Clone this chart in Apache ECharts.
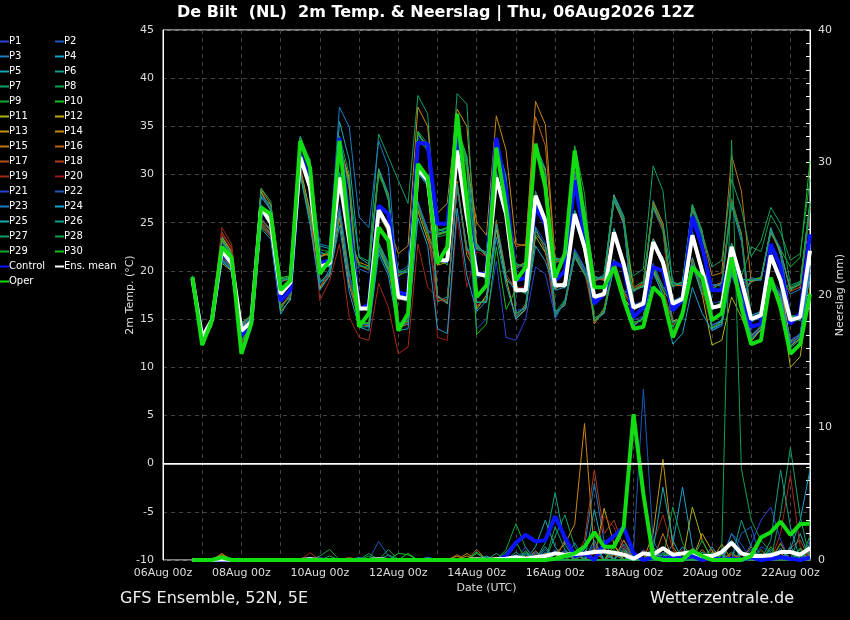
<!DOCTYPE html>
<html><head><meta charset="utf-8">
<script src="https://cdn.jsdelivr.net/npm/echarts@6/dist/echarts.min.js"></script>
<style>html,body{margin:0;padding:0;background:#000;}#c{width:850px;height:620px;}</style>
</head><body><div id="c"></div>
<script>
// ---- time axis (6-hourly categories) ----
const times = [
'06Aug 00z','06Aug 06z','06Aug 12z','06Aug 18z','07Aug 00z','07Aug 06z','07Aug 12z','07Aug 18z',
'08Aug 00z','08Aug 06z','08Aug 12z','08Aug 18z','09Aug 00z','09Aug 06z','09Aug 12z','09Aug 18z',
'10Aug 00z','10Aug 06z','10Aug 12z','10Aug 18z','11Aug 00z','11Aug 06z','11Aug 12z','11Aug 18z',
'12Aug 00z','12Aug 06z','12Aug 12z','12Aug 18z','13Aug 00z','13Aug 06z','13Aug 12z','13Aug 18z',
'14Aug 00z','14Aug 06z','14Aug 12z','14Aug 18z','15Aug 00z','15Aug 06z','15Aug 12z','15Aug 18z',
'16Aug 00z','16Aug 06z','16Aug 12z','16Aug 18z','17Aug 00z','17Aug 06z','17Aug 12z','17Aug 18z',
'18Aug 00z','18Aug 06z','18Aug 12z','18Aug 18z','19Aug 00z','19Aug 06z','19Aug 12z','19Aug 18z',
'20Aug 00z','20Aug 06z','20Aug 12z','20Aug 18z','21Aug 00z','21Aug 06z','21Aug 12z','21Aug 18z',
'22Aug 00z','22Aug 06z','22Aug 12z'];
const leadingEmpty = [null, null, null]; // forecast starts at 06Aug 18z

// ---- 2m temperature (°C) ----
const tempMean = [19.2, 13.1,14.9,22.1,20.8, 13.8,14.7,26.6,25.0, 17.6,18.8,31.8,28.7, 20.4,20.8,29.7,23.1, 16.1,16.1,26.3,24.5, 17.3,17.1,30.6,29.4, 21.1,21.1,32.5,25.6, 19.7,19.5,29.7,25.9, 18.0,18.0,27.8,25.2, 18.5,18.5,25.9,22.5, 17.3,17.6,24.0,20.7, 16.2,16.6,23.0,20.9, 16.6,17.1,23.7,20.0, 16.2,16.4,22.5,19.0, 15.0,15.4,21.6,19.0, 14.9,15.2,22.1];
const tempControl = [19.2, 13.1,14.9,21.8,20.8, 13.3,14.7,26.3,25.3, 16.9,18.0,32.1,29.4, 20.8,21.1,33.8,25.0, 16.0,16.5,26.8,25.9, 17.8,17.5,33.3,33.2, 24.9,24.9,33.8,27.3, 19.7,19.7,33.8,28.3, 19.0,19.3,26.6,24.9, 19.0,20.0,29.4,23.5, 16.6,17.6,20.9,20.4, 15.2,16.2,20.4,20.0, 15.9,17.0,25.6,22.5, 18.0,18.0,21.4,18.7, 14.2,14.5,22.8,20.4, 14.5,15.6,23.8];
const tempOper = [19.4, 12.3,14.9,22.5,21.4, 11.4,14.5,26.6,25.9, 18.0,19.0,33.5,30.7, 19.7,21.1,33.5,23.9, 14.2,15.6,24.5,23.1, 13.8,15.6,31.1,29.7, 20.8,22.5,36.3,27.3, 17.3,18.5,32.8,26.6, 19.0,20.4,33.2,28.7, 19.3,21.8,32.5,25.2, 18.3,18.3,20.4,17.0, 14.0,14.2,18.3,17.3, 13.1,15.6,20.4,19.3, 14.9,15.6,21.4,16.2, 12.4,12.8,19.3,16.2, 11.4,12.4,17.6];
const tempP1 = [19.3, 13.0,14.8,21.8,20.5, 12.9,14.0,25.5,24.3, 16.5,17.2,30.2,26.4, 18.9,19.6,26.8,19.8, 15.8,16.3,25.9,24.0, 14.6,14.9,27.1,24.4, 17.5,16.6,28.6,22.5, 19.2,19.9,29.1,25.3, 15.9,16.1,24.6,22.9, 15.0,16.9,22.3,20.4, 17.0,17.9,23.5,20.1, 14.9,15.3,20.8,18.4, 16.9,16.8,23.1,19.6, 14.4,14.9,20.4,17.5, 13.4,13.8,19.1,17.9, 12.8,13.5,19.8];
const tempP2 = [19.2, 13.4,15.2,23.0,21.5, 14.4,15.0,27.6,26.9, 18.8,19.3,33.2,31.6, 20.1,21.0,30.2,24.0, 20.2,19.8,30.6,27.2, 19.9,20.5,33.8,32.4, 21.4,20.8,32.0,26.2, 19.4,19.8,30.1,26.5, 20.8,20.2,32.2,29.6, 20.7,21.6,29.5,26.6, 19.5,19.0,27.9,24.7, 16.5,16.9,23.4,21.3, 18.3,18.9,26.2,23.4, 16.6,16.9,22.9,19.5, 15.3,15.7,21.3,19.4, 15.2,15.6,22.6];
const tempP3 = [19.1, 12.8,14.5,21.6,20.3, 13.6,14.8,26.9,25.3, 19.4,19.0,34.0,30.8, 22.0,21.5,33.9,28.4, 16.4,15.8,26.0,24.9, 14.0,14.9,27.2,24.2, 23.6,24.6,35.4,30.9, 20.0,19.2,29.3,25.4, 17.7,18.3,28.3,25.6, 15.8,16.4,22.1,20.3, 15.1,15.7,21.2,17.9, 17.8,18.9,26.5,24.1, 16.9,17.4,24.1,20.4, 13.8,14.3,20.4,17.5, 14.7,15.2,22.0,19.3, 17.6,18.1,26.2];
const tempP4 = [19.3, 13.2,15.0,22.3,21.0, 12.3,14.1,24.8,23.7, 17.9,18.6,31.5,28.2, 18.3,20.2,25.8,18.5, 14.9,14.2,22.9,20.8, 17.0,17.5,30.2,28.8, 24.4,23.9,34.6,31.9, 22.2,22.0,33.5,29.8, 18.3,17.6,27.4,24.8, 18.8,18.2,26.3,22.9, 18.9,19.6,27.9,25.7, 14.2,15.3,20.0,17.4, 14.8,15.0,21.4,18.2, 18.6,18.4,26.8,23.1, 15.4,15.8,21.2,18.6, 12.7,13.4,20.6];
const tempP5 = [19.4, 13.3,15.1,23.6,21.9, 14.0,14.6,26.3,25.2, 18.9,19.4,33.2,30.9, 22.6,22.3,35.5,31.5, 21.4,20.7,30.6,28.0, 17.6,16.8,31.0,29.8, 16.8,17.3,28.5,22.4, 19.9,19.1,30.3,26.3, 20.2,20.8,33.1,30.6, 18.2,18.9,25.5,22.0, 17.0,17.9,24.4,21.1, 16.5,16.3,22.6,21.4, 14.2,15.6,20.6,17.5, 15.9,16.8,22.9,18.6, 19.3,19.0,24.5,21.6, 15.5,14.8,22.4];
const tempP6 = [19.0, 12.6,14.5,21.2,20.2, 12.8,14.3,25.0,23.8, 17.3,19.0,32.1,29.0, 20.6,20.5,29.3,22.6, 14.3,14.7,22.8,20.6, 19.4,20.3,34.5,33.2, 20.7,21.5,32.9,25.2, 22.9,21.4,32.6,28.9, 15.1,16.6,24.5,22.0, 18.7,18.3,25.6,22.2, 15.1,15.6,21.1,17.6, 18.4,18.3,27.3,24.9, 18.9,18.4,26.9,24.2, 16.5,16.2,22.2,19.3, 13.3,14.3,18.9,17.3, 12.1,13.4,19.9];
const tempP7 = [19.2, 13.1,14.8,22.3,20.9, 14.5,15.2,28.3,26.4, 17.8,18.6,31.5,28.9, 21.9,21.6,33.6,28.6, 21.5,21.0,34.2,31.8, 29.4,27.0,38.2,36.3, 21.5,20.6,32.2,25.9, 16.3,17.2,24.6,19.0, 18.4,17.8,27.4,24.9, 21.4,21.0,30.4,26.4, 14.6,16.2,21.0,17.0, 16.0,16.8,23.2,21.1, 18.8,18.5,26.9,23.6, 18.0,18.9,27.5,23.9, 15.2,15.6,21.9,18.8, 18.3,18.8,27.0];
const tempP8 = [19.5, 13.4,15.2,23.1,21.6, 13.9,14.9,26.8,24.7, 17.4,18.9,31.9,28.4, 18.9,19.7,26.5,19.6, 14.8,14.6,22.2,20.0, 17.5,16.9,30.9,29.1, 23.7,24.0,34.8,31.0, 16.8,16.7,25.3,19.8, 20.7,20.3,32.4,29.9, 15.7,17.0,21.4,19.6, 17.5,17.4,23.7,20.4, 16.0,16.4,22.8,20.6, 16.4,17.3,23.9,20.3, 14.3,14.9,20.2,17.4, 18.8,19.4,24.3,22.3, 14.6,15.0,21.8];
const tempP9 = [19.1, 12.5,14.4,21.0,20.1, 13.7,14.8,26.4,25.1, 16.0,17.7,30.4,26.2, 20.2,21.1,30.0,23.5, 20.6,20.1,29.9,27.9, 14.6,14.4,26.4,24.1, 20.9,21.3,32.7,25.4, 22.4,21.9,32.8,29.0, 15.6,16.2,23.8,22.7, 18.2,18.7,26.1,22.7, 19.4,19.1,27.2,25.0, 14.7,14.8,20.6,18.3, 16.8,16.9,23.5,20.2, 16.0,16.6,22.7,19.2, 12.8,13.9,18.3,17.8, 15.1,15.4,21.9];
const tempP10 = [19.3, 13.0,15.0,22.0,20.6, 14.2,15.3,27.8,26.8, 19.3,19.5,33.9,31.4, 21.5,22.1,32.9,29.5, 16.3,16.0,26.6,24.2, 20.0,19.8,34.4,32.6, 24.2,24.5,35.2,31.7, 19.5,19.9,29.4,26.1, 18.2,17.7,28.1,24.9, 15.2,16.9,21.9,20.1, 19.0,19.4,27.7,25.5, 18.3,18.9,26.8,24.3, 14.3,15.4,21.2,18.0, 16.3,16.2,22.3,19.1, 19.1,19.3,23.9,22.2, 20.4,21.4,31.4];
const tempP11 = [19.0, 12.4,14.3,20.8,20.0, 12.1,14.0,24.6,23.6, 15.8,17.0,30.1,25.3, 18.2,19.5,25.5,18.6, 15.8,16.4,25.9,24.0, 13.9,14.8,26.2,23.2, 20.6,20.9,32.3,25.0, 16.0,17.5,24.3,19.2, 15.0,16.0,23.6,21.9, 18.1,18.9,25.4,22.2, 14.5,16.0,20.5,17.2, 15.9,16.7,22.7,20.5, 14.8,15.1,21.2,17.6, 12.3,12.8,17.3,15.2, 12.7,13.9,18.2,17.1, 10.0,11.1,18.3];
const tempP12 = [19.4, 13.3,15.0,23.5,22.0, 13.6,14.5,26.2,24.8, 17.9,18.5,31.6,29.2, 21.4,21.9,33.1,29.6, 14.4,14.5,22.3,20.1, 17.8,17.3,30.9,29.8, 17.4,16.6,29.3,21.6, 19.8,19.3,29.9,25.6, 20.4,20.9,32.3,30.5, 18.4,18.8,25.7,22.4, 14.7,15.8,21.0,17.8, 16.3,16.8,23.3,21.0, 18.4,18.8,26.4,24.1, 16.1,16.7,22.6,18.8, 15.1,15.6,21.4,19.2, 12.2,13.0,20.0];
const tempP13 = [19.2, 13.2,14.9,22.2,20.9, 14.4,15.1,28.2,26.2, 16.4,17.3,30.8,26.0, 20.5,20.6,29.9,23.4, 20.9,20.5,30.4,27.5, 17.1,17.4,30.4,29.6, 26.0,27.0,36.8,35.0, 22.7,21.5,33.2,29.5, 17.8,18.1,27.6,25.4, 15.6,16.5,21.5,19.7, 17.4,17.5,24.2,20.9, 14.3,15.2,20.1,18.0, 16.5,17.2,23.8,20.1, 18.4,18.8,27.0,23.8, 13.2,14.2,18.8,17.4, 14.7,15.3,22.3];
const tempP14 = [19.3, 13.4,15.2,23.2,21.7, 14.6,15.3,28.5,26.9, 19.0,19.1,33.4,31.0, 20.3,20.9,29.5,22.8, 16.0,16.3,26.1,24.7, 21.8,22.6,37.0,35.0, 23.8,24.1,34.9,31.2, 25.0,23.7,36.1,32.5, 22.8,22.6,37.6,35.2, 21.0,21.5,30.3,26.3, 19.4,19.1,27.8,25.0, 18.0,18.7,27.1,24.9, 16.8,17.0,23.6,20.3, 14.0,14.8,20.1,17.3, 19.0,19.2,24.2,21.9, 18.2,18.6,26.5];
const tempP15 = [19.0, 12.7,14.5,21.5,20.5, 13.9,14.7,26.5,24.9, 17.5,18.9,31.7,28.5, 21.6,21.7,33.0,29.2, 14.5,14.3,22.6,20.4, 14.1,14.5,26.9,23.6, 21.2,21.2,32.6,25.8, 22.4,21.8,33.1,29.1, 17.9,17.9,27.9,25.0, 20.9,21.1,30.1,26.0, 19.0,19.2,27.3,24.9, 16.4,16.5,23.1,21.2, 18.5,18.5,26.7,24.0, 19.5,19.8,32.0,28.3, 18.9,19.1,24.0,22.0, 17.9,18.3,26.9];
const tempP16 = [19.2, 13.1,14.8,21.9,20.7, 12.5,14.4,25.4,24.2, 19.2,19.3,33.7,31.3, 20.3,20.7,29.8,23.3, 15.9,16.2,26.2,24.4, 19.6,20.0,34.2,33.0, 16.9,17.0,28.8,22.3, 19.6,19.6,29.6,25.8, 22.5,22.8,36.0,33.0, 21.2,21.1,30.0,26.0, 17.1,17.8,23.8,20.5, 18.0,18.4,26.9,24.4, 16.7,16.9,23.6,19.8, 16.3,16.5,22.4,19.2, 15.1,15.3,21.7,18.9, 15.0,15.1,22.0];
const tempP17 = [19.3, 13.3,15.2,24.0,22.4, 13.7,14.8,26.7,25.1, 16.3,17.6,30.5,25.6, 18.4,19.7,26.0,18.9, 14.7,14.5,22.4,20.2, 17.4,17.2,30.7,29.0, 21.0,21.1,32.4,25.5, 16.4,17.0,25.1,19.6, 18.1,18.2,27.7,25.3, 18.6,18.5,25.8,22.6, 19.3,19.0,27.6,25.4, 14.4,15.1,20.4,18.1, 14.6,15.2,20.9,17.9, 16.1,16.3,22.6,19.0, 13.1,14.2,18.5,17.5, 12.6,13.2,20.4];
const tempP18 = [19.1, 12.6,14.6,21.3,20.3, 12.7,14.2,25.1,23.9, 17.7,18.7,31.9,28.8, 20.5,20.8,29.6,23.0, 20.6,20.1,30.1,27.8, 14.2,14.7,26.6,23.9, 17.0,16.8,28.9,22.2, 19.8,19.4,29.8,26.0, 15.3,16.5,24.2,22.3, 15.5,16.6,21.8,20.0, 14.9,15.8,20.7,17.6, 16.1,16.7,23.1,20.8, 16.7,17.0,23.8,20.1, 18.2,18.8,27.4,23.7, 14.9,15.5,21.5,19.1, 14.8,15.3,22.2];
const tempP19 = [19.2, 13.2,15.0,24.5,22.8, 13.8,14.6,26.4,24.6, 17.4,18.7,31.6,28.6, 16.9,19.0,22.8,15.2, 13.1,12.8,18.7,16.2, 11.4,12.1,22.8,18.3, 17.2,17.0,29.1,21.9, 22.5,21.6,32.9,29.2, 20.6,20.4,32.5,30.0, 18.4,18.6,25.9,22.5, 14.6,15.9,20.9,17.3, 18.2,18.5,27.0,24.7, 16.5,17.0,23.6,20.0, 14.2,14.5,19.8,17.0, 15.1,15.5,21.5,19.0, 15.0,15.4,22.0];
const tempP20 = [19.4, 13.5,15.3,23.8,22.2, 12.4,14.0,25.0,23.5, 17.6,18.9,31.7,28.6, 20.4,20.6,29.4,22.7, 16.2,16.0,26.4,24.6, 17.0,17.0,30.5,29.2, 13.1,12.8,25.6,18.3, 22.0,21.5,32.4,28.7, 18.2,18.4,28.0,25.5, 18.7,18.4,26.0,22.4, 17.2,17.8,24.1,20.9, 18.3,18.7,26.6,24.2, 14.4,15.5,21.1,17.9, 14.1,14.7,20.0,17.2, 15.2,15.3,21.8,19.0, 17.8,18.4,26.5];
const tempP21 = [19.1, 12.5,14.4,21.1,20.2, 14.3,15.2,27.9,26.5, 17.5,18.6,31.4,28.5, 20.2,20.9,29.2,22.9, 14.5,14.4,22.5,20.5, 19.8,19.9,34.0,32.9, 21.2,20.9,32.4,25.7, 14.0,15.0,21.0,13.1, 12.8,15.0,20.4,19.7, 15.3,16.8,21.6,20.1, 17.4,17.7,23.9,20.6, 16.1,16.5,22.9,20.8, 16.6,17.1,23.9,19.9, 18.5,18.6,27.1,23.5, 13.0,14.0,18.7,17.7, 12.3,13.3,20.3];
const tempP22 = [19.3, 13.0,15.0,22.2,20.8, 13.8,14.8,26.5,24.9, 19.0,19.3,33.5,31.0, 18.7,19.8,26.4,19.3, 16.0,16.0,26.5,24.6, 14.4,14.5,26.8,24.0, 23.9,24.2,35.1,31.2, 19.6,19.7,29.5,25.7, 18.1,17.8,27.9,25.0, 21.0,21.4,30.2,26.2, 19.2,19.5,27.4,25.3, 14.6,15.1,20.5,18.2, 18.7,18.6,26.8,23.7, 14.3,14.8,20.3,17.3, 19.2,19.0,24.1,22.4, 15.3,15.0,22.5];
const tempP23 = [19.5, 13.4,15.1,23.0,21.7, 13.9,14.9,26.7,25.2, 17.8,18.8,32.0,29.0, 22.8,22.5,37.0,34.9, 25.6,24.5,33.5,30.7, 17.6,17.2,30.8,29.6, 21.0,20.9,32.6,25.6, 22.6,21.8,33.0,29.4, 18.0,18.1,27.6,25.1, 15.6,16.6,21.6,19.8, 19.1,19.3,27.6,25.1, 16.3,16.5,23.2,20.9, 16.9,17.0,23.7,20.2, 14.0,14.5,20.0,17.1, 13.2,14.3,18.7,17.5, 12.5,13.1,20.5];
const tempP24 = [19.0, 12.4,14.5,21.0,20.1, 12.0,14.1,24.4,23.3, 15.5,17.2,30.0,24.8, 18.0,19.5,24.7,17.8, 14.2,13.8,21.8,19.5, 13.8,14.0,25.5,22.6, 14.0,13.5,26.5,19.5, 15.8,16.9,23.5,18.6, 15.0,16.2,22.6,21.0, 18.0,18.3,25.2,22.0, 14.8,15.6,20.3,17.0, 14.3,15.1,19.8,17.6, 12.4,13.5,18.3,15.6, 13.8,14.5,19.6,16.8, 12.9,14.0,18.2,17.3, 12.0,12.9,19.5];
const tempP25 = [19.2, 13.1,14.9,22.4,21.0, 14.2,15.0,27.7,26.3, 17.7,18.9,31.6,28.3, 20.7,20.4,30.2,23.6, 14.2,14.2,22.2,19.9, 17.2,16.8,30.3,29.0, 20.8,21.4,32.3,25.4, 16.7,16.8,24.8,19.3, 17.9,18.3,27.7,24.9, 21.3,21.1,29.6,25.8, 17.0,17.4,24.3,20.8, 17.9,18.4,26.6,24.5, 16.6,17.3,23.8,20.0, 14.0,14.9,20.0,17.2, 15.1,15.5,21.6,19.3, 15.0,15.3,21.7];
const tempP26 = [19.3, 13.3,15.1,23.4,21.6, 13.7,14.7,26.4,25.0, 19.2,19.1,33.7,31.1, 18.8,19.8,26.1,19.4, 20.5,20.4,30.3,27.7, 17.4,17.1,30.6,29.5, 17.3,16.7,29.0,22.1, 22.7,21.6,33.2,29.5, 15.5,16.3,24.2,22.6, 18.3,18.6,25.9,22.3, 19.3,19.3,27.4,25.2, 16.2,16.4,23.1,21.0, 14.6,15.2,21.0,17.7, 16.4,16.4,22.6,19.1, 19.0,19.1,24.2,22.1, 18.1,18.7,26.8];
const tempP27 = [19.2, 13.0,14.9,22.1,20.7, 13.9,14.6,26.5,25.1, 17.6,18.7,31.7,28.8, 20.4,20.9,29.6,23.2, 16.2,16.2,26.2,24.4, 19.8,20.2,34.3,32.7, 24.1,24.4,38.4,37.3, 19.6,19.6,29.8,26.0, 20.6,20.6,32.8,30.3, 15.4,16.8,21.8,19.8, 17.3,17.7,24.0,20.6, 19.5,20.2,30.9,28.3, 18.6,18.8,26.6,23.9, 20.4,21.1,29.5,26.5, 21.5,23.1,26.6,24.9, 18.5,18.9,27.2];
const tempP28 = [19.1, 12.6,14.4,21.2,20.4, 14.6,15.4,28.6,27.2, 16.2,17.4,30.3,25.4, 22.2,22.0,34.0,30.0, 16.4,16.0,26.7,24.7, 17.5,17.4,31.2,29.6, 23.5,23.8,34.4,30.6, 19.8,19.4,29.6,25.6, 20.8,20.3,32.5,29.8, 18.6,18.6,26.2,22.7, 19.0,19.6,27.7,25.6, 16.4,16.5,23.2,21.0, 18.4,18.9,26.9,24.0, 16.0,16.9,22.8,19.4, 22.5,22.0,25.8,24.0, 21.1,21.8,29.5];
const tempP29 = [19.2, 13.1,14.9,22.0,20.8, 12.7,14.3,25.3,24.1, 19.1,19.4,33.8,31.5, 20.6,20.6,29.9,23.3, 20.7,20.2,30.3,27.4, 14.5,14.8,26.9,23.9, 21.3,21.0,32.5,25.8, 22.5,21.6,33.1,29.3, 18.0,17.9,27.9,25.2, 21.1,21.2,33.0,28.0, 17.2,17.5,24.0,20.7, 18.1,18.5,26.9,24.5, 16.7,17.2,23.7,20.0, 18.2,18.7,27.1,23.6, 15.0,15.4,21.6,19.0, 18.0,18.6,27.0];
const tempP30 = [19.3, 13.4,15.2,23.3,21.8, 13.8,14.8,26.6,25.0, 17.6,18.9,31.9,28.7, 20.3,20.8,29.6,22.9, 14.6,14.5,22.7,20.2, 19.5,20.0,34.3,32.6, 23.9,24.1,35.0,31.3, 13.4,14.5,22.5,16.0, 18.1,18.0,27.8,25.3, 18.4,18.6,25.8,22.3, 14.8,15.8,20.8,17.5, 14.6,15.0,20.4,18.0, 16.6,17.2,23.8,20.1, 14.1,14.7,20.0,17.3, 15.0,15.4,21.7,19.1, 15.2,15.5,22.2];

// ---- precipitation (mm per 6h) ----
const precMean = [0, 0,0,.05,0, 0,0,0,0, 0,0,0,.05, 0,0,0,0, 0,0,.05,0, 0,0,0,0, 0,0,0,0, .05,0,.05,.1, .2,.1,.2,.3, .5,.4,.45,.5, .6,.65,.55,.4, .1,.5,.4,.9, .4,.5,.6,.3, .3,.6,1.3,.5, .3,.3,.35,.6, .6,.4,.9];
const precControl = [0, 0,0,0,0, 0,0,0,0, 0,0,0,0, 0,0,0,0, 0,0,0,0, 0,0,0,0, 0,0,0,0, 0,0,0,.3, 1.3,1.9,1.4,1.5, 3.3,1.7,.3,.5, 0,1.2,1.8,2.5, .5,0,.2,.1, .2,.1,.3,0, .2,0,.1,0, .2,0,.1,.2, .1,0,.2];
const precOper = [0, 0,0,.2,0, 0,0,0,0, 0,0,0,0, 0,0,0,0, 0,0,0,0, 0,0,0,0, 0,0,0,0, 0,0,0,0, 0,0,0,0, .1,.3,.5,1, 2.1,1,1,2.5, 11,5,.2,0, 0,0,.7,.3, 0,0,0,0, .3,1.7,2.1,2.9, 1.9,2.7,2.75];
const precP1 = [0, 0,0,0,0, 0,0,0,0, 0,0,0,0, .2,0,0,0, 0,0,0,0, 0,0,0,0, 0,0,0,0, 0,0,0,0, .3,0,.5,0, 0,0,0,0, 1.2,0,.6,0, 0,.8,0,0, 0,.5,0,0, 0,.3,0,0, 0,1,.6,0, 0,.4,0];
const precP2 = [0, 0,0,0,0, 0,0,0,0, 0,0,0,0, 0,0,0,0, 0,0,1.4,.3, 0,0,0,0, 0,0,0,0, 0,0,0,0, 0,.4,0,0, .8,0,0,0, 0,1.5,0,0, 0,0,0,.6, 0,0,0,0, 0,0,2,1.2, 0,0,0,.5, 0,0,1.5];
const precP3 = [0, 0,0,0,0, 0,0,0,0, 0,0,0,0, 0,0,0,0, .2,0,0,0, 0,0,0,0, 0,0,0,0, 0,0,0,0, 0,0,0,.6, 0,0,0,1, 5.8,1.4,0,0, 0,0,.7,0, 0,0,0,0, .4,0,0,0, .8,0,0,0, 1,0,0];
const precP4 = [0, 0,0,0,0, 0,0,0,0, 0,0,0,0, 0,0,0,0, 0,0,0,0, 0,0,0,.2, 0,0,0,0, 0,0,0,0, 0,0,.3,0, 0,.7,0,0, 0,0,0,.9, 0,0,0,0, 1.2,5.5,1,0, 0,0,0,.6, 0,0,.8,0, 0,0,1.2];
const precP5 = [0, 0,0,0,0, 0,0,0,0, 0,0,0,0, 0,0,0,0, 0,0,0,0, 0,0,0,0, 0,0,0,0, 0,.2,0,0, 0,0,1,3, 1,0,0,0, 3.8,.5,0,0, 0,0,0,.4, 0,0,0,.6, 0,0,1.5,0, 0,0,0,.7, 0,2,0];
const precP6 = [0, 0,0,0,0, 0,0,0,0, 0,0,0,0, 0,0,0,0, 0,0,0,0, 0,0,0,0, 0,0,0,0, 0,0,0,0, .6,0,0,1.3, 5.1,1.2,0,0, 0,0,.5,0, 0,0,1,0, 0,.4,0,0, 0,0,0,.5, 0,0,0,0, 1,0,0];
const precP7 = [0, 0,0,0,0, 0,0,0,0, 0,0,0,0, 0,0,0,0, 0,.5,0,0, 0,0,0,0, 0,0,0,0, 0,0,0,.4, 0,0,0,0, 1.8,3.4,1,0, 0,0,0,1.5, .3,0,0,0, 0,0,.5,0, 0,0,0,0, .5,0,0,0, 0,.8,0];
const precP8 = [0, 0,0,0,0, 0,0,0,0, 0,0,0,0, .3,.8,0,0, 0,0,0,.8, 0,0,0,0, 0,0,0,0, 0,0,0,0, 0,.6,0,0, 0,0,0,.4, 0,0,0,0, 0,.5,0,0, 4,1.3,0,0, 0,0,.6,0, 0,0,0,1.2, 0,0,0];
const precP9 = [0, 0,0,.3,0, 0,0,0,0, 0,0,0,0, 0,0,0,0, 0,0,0,0, 0,0,0,0, 0,0,0,0, 0,0,0,.8, 2.75,.9,0,0, 0,0,.6,0, 0,0,0,.8, 0,0,0,.5, 0,0,0,0, 0,.4,0,0, 0,0,0,0, .7,0,0];
const precP10 = [0, 0,0,0,0, 0,0,0,0, 0,0,0,0, 0,0,0,0, 0,0,0,0, .5,.4,0,0, 0,0,0,0, .6,0,0,0, 0,0,.4,0, 0,0,0,0, .8,0,0,0, 0,0,.4,0, 0,0,0,0, .6,0,0,0, 0,.5,0,0, 0,.9,0];
const precP11 = [0, 0,0,0,0, 0,0,0,0, 0,0,0,0, 0,0,0,0, 0,0,0,0, 0,0,0,0, 0,0,0,0, 0,0,.2,0, 0,0,0,0, 0,0,.5,0, 0,0,1.1,0, 0,0,0,.8, 0,0,4,1.5, 0,0,0,0, .6,0,0,0, 0,0,.4];
const precP12 = [0, 0,0,0,0, 0,0,0,0, 0,0,0,0, 0,0,0,0, 0,0,0,0, 0,0,0,0, 0,0,.3,0, 0,0,0,0, 0,.3,0,0, 0,0,0,.6, 0,3.9,1.2,0, 0,.6,0,0, 0,0,0,2, .7,0,0,0, 0,0,.3,0, 0,0,0];
const precP13 = [0, 0,0,.4,0, 0,0,0,0, 0,0,0,0, 0,0,0,0, 0,0,0,0, 0,0,0,0, 0,0,0,.5, 0,0,0,0, 0,0,0,.5, 0,0,0,0, 0,0,0,.7, 0,0,2,7.6, 1,0,0,0, 0,1.2,0,0, 0,0,0,.5, 0,0,0];
const precP14 = [0, 0,0,0,0, 0,0,0,0, 0,0,0,0, 0,0,0,0, 0,0,0,0, 0,0,0,0, 0,0,0,.3, 0,0,0,0, 0,0,0,0, .5,1.2,2.7,10.3, .6,0,0,0, .5,0,0,0, 0,0,0,.8, 0,0,0,0, 1,0,0,0, 0,.6,0];
const precP15 = [0, 0,0,.5,0, 0,0,0,0, 0,0,0,0, 0,0,0,0, 0,0,0,0, 0,0,0,0, 0,0,0,0, 0,0,0,0, .2,0,0,0, 0,1.5,0,0, 0,.8,0,1.5, 0,0,0,2, 0,0,0,0, .8,0,0,0, 0,.4,0,0, 0,0,.8];
const precP16 = [0, 0,0,0,0, 0,0,0,0, 0,0,0,0, 0,0,0,0, 0,0,0,0, 0,0,0,0, 0,0,0,0, .8,0,0,0, 0,0,.7,0, 0,0,0,0, .9,0,.4,0, 0,0,.6,0, 0,0,.9,0, 0,0,.5,0, 0,0,0,1.3, 0,0,0];
const precP17 = [0, 0,0,0,0, 0,0,0,0, 0,0,0,0, 0,0,0,0, 0,0,0,0, 0,0,0,0, 0,0,.4,0, 0,0,0,0, 0,0,0,0, .6,0,0,0, .5,.9,0,0, 0,.7,0,0, 0,.5,0,0, 0,0,0,.4, 0,0,0,0, .9,1.5,0];
const precP18 = [0, 0,0,0,0, 0,0,0,0, 0,0,0,0, 0,0,0,.2, 0,0,0,0, 0,0,0,0, 0,0,0,0, 0,0,0,0, 0,0,0,.4, 0,0,0,1.5, 6.8,2,3,1, 0,0,0,0, .6,0,0,0, 0,0,.4,0, 0,0,.5,0, 0,0,0];
const precP19 = [0, 0,0,0,0, 0,0,0,0, 0,0,0,.55, 0,0,0,0, 0,0,0,0, 0,0,0,0, 0,0,0,0, 0,0,0,0, 0,0,0,0, 0,0,.4,0, 0,0,0,0, .6,0,1.3,3.4, .8,0,0,0, 0,.6,0,0, 0,0,0,2, 6.4,1,0];
const precP20 = [0, 0,0,0,0, 0,0,0,0, 0,0,0,0, 0,0,0,0, 0,0,0,0, 0,0,0,0, 0,0,0,0, 0,0,0,0, 0,0,.5,0, 0,0,0,.4, 0,3.3,2.5,.6, 0,0,0,0, 0,.8,0,0, .5,0,0,0, 0,.7,0,0, 0,0,.5];
const precP21 = [0, 0,0,0,0, 0,0,0,0, 0,0,0,.2, 0,0,0,0, 0,0,0,0, 0,0,0,0, 0,0,0,0, 0,0,0,0, 0,1,0,0, 0,.8,0,0, 0,0,.6,0, 0,0,0,0, .5,0,0,0, 0,.5,0,0, 1.2,3,4,1.5, 0,0,0];
const precP22 = [0, 0,0,0,0, 0,0,0,0, 0,0,0,0, 0,0,0,0, 0,0,0,0, 0,0,0,.2, 0,0,0,0, 0,0,0,0, 0,0,0,0, .7,0,0,0, 1,0,0,0, .8,12.9,1.5,0, 0,0,0,.3, 0,0,0,2, 2.5,0,0,0, 0,0,.9];
const precP23 = [0, 0,0,0,0, 0,0,0,0, 0,0,0,0, 0,0,0,0, 0,0,0,0, 0,0,0,0, 0,0,0,0, 0,0,0,0, .4,0,0,.8, 0,0,1.3,0, 0,0,0,1.2, 0,0,0,1, 0,0,.8,0, 0,0,2,.7, 0,0,0,0, 0,.5,0];
const precP24 = [0, 0,0,0,0, 0,0,0,0, 0,0,0,0, 0,0,0,0, 0,0,0,0, 0,0,0,0, 0,0,0,0, 0,.3,0,0, 0,0,.6,0, 0,0,0,.8, 0,0,0,0, .4,0,0,0, 0,1,0,0, 1,0,0,0, 0,0,.6,0, .8,3,6.8];
const precP25 = [0, 0,0,0,0, 0,0,0,0, 0,0,0,0, 0,0,0,0, 0,0,0,0, 0,0,0,0, 0,0,0,0, 0,0,0,0, 0,.5,0,0, 0,.5,0,0, 1.5,0,0,0, 0,0,.8,5.5, 1.5,0,0,0, 0,0,1.5,0, 0,0,0,.9, 0,0,0];
const precP26 = [0, 0,0,0,0, 0,0,0,0, 0,0,0,0, 0,0,0,0, 0,0,0,0, 0,0,0,0, 0,0,0,0, 0,0,0,0, .3,0,0,1, 0,0,0,0, 0,.7,0,0, 0,.5,0,0, 0,0,0,.6, 0,0,0,3, 1,0,1.5,6.8, 2.5,0,0];
const precP27 = [0, 0,0,0,0, 0,0,0,0, 0,0,0,0, 0,0,0,0, 0,0,0,.4, 0,0,0,0, 0,0,0,0, 0,0,.5,0, 0,0,0,0, 2.5,.8,0,0, 0,0,0,.7, 0,0,0,0, .4,0,0,0, .5,0,0,0, 0,0,0,3.5, 8.5,3.3,0];
const precP28 = [0, 0,0,0,0, 0,0,0,0, 0,0,0,0, 0,.3,0,0, 0,0,0,0, 0,0,0,0, 0,0,0,0, .6,0,0,0, 0,.7,0,0, 0,0,.5,0, 0,0,0,0, .3,0,0,0, 0,0,.5,0, 0,.8,31.7,6.9, 3,1.5,.6,0, 0,.8,0];
const precP29 = [0, 0,0,.2,0, 0,0,0,0, 0,0,0,0, 0,0,0,0, 0,.3,0,0, 0,0,0,0, 0,0,0,0, 0,0,0,.6, 1.4,0,0,0, 0,0,0,.5, 0,0,0,0, 0,0,.9,0, 0,0,0,1.5, 0,0,0,0, 0,.8,0,0, 0,0,1.8];
const precP30 = [0, 0,0,0,0, 0,0,0,0, 0,0,0,0, 0,0,0,0, 0,0,0,0, 0,.5,0,0, 0,0,0,0, .5,0,0,0, 0,0,0,.4, 0,0,0,0, 0,0,.8,0, 0,0,0,0, .6,0,0,0, 0,.4,0,0, 0,0,1,0, 0,.6,0];

// ---- axis ticks ----
const tempTicks = {min: -10, max: 45, step: 5};
const precTicks = {min: 0, max: 40, step: 10};

const tempMembers = [tempP1,tempP2,tempP3,tempP4,tempP5,tempP6,tempP7,tempP8,tempP9,tempP10,tempP11,tempP12,tempP13,tempP14,tempP15,tempP16,tempP17,tempP18,tempP19,tempP20,tempP21,tempP22,tempP23,tempP24,tempP25,tempP26,tempP27,tempP28,tempP29,tempP30];
const precMembers = [precP1,precP2,precP3,precP4,precP5,precP6,precP7,precP8,precP9,precP10,precP11,precP12,precP13,precP14,precP15,precP16,precP17,precP18,precP19,precP20,precP21,precP22,precP23,precP24,precP25,precP26,precP27,precP28,precP29,precP30];

const baseColors = ['#2a44d2','#1f58b8','#1c7cc4','#1aa0cc','#16a8b0','#12a088','#12a066','#12a04c','#12a834','#14c020',
                    '#b0b012','#c0a412','#c49412','#c88812','#c27418','#bc6418','#b44e18','#ac3e1c','#a42a18','#9c1a1a'];
const memberColor = k => baseColors[k % 20];

const pad = a => leadingEmpty.concat(a);
const series = [];
tempMembers.forEach((d, k) => {
  const s = {name: 'P' + (k + 1), type: 'line', yAxisIndex: 0, data: pad(d), symbol: 'none', showSymbol: false,
    lineStyle: {width: 1, color: memberColor(k)}, itemStyle: {color: memberColor(k)}, silent: true, emphasis: {disabled: true}};
  if (k === 0) {
    s.markLine = {silent: true, symbol: ['none', 'none'], label: {show: false}, animation: false,
      lineStyle: {color: '#ffffff', type: 'solid', width: 1.5}, data: [{yAxis: 0}]};
  }
  series.push(s);
});
precMembers.forEach((d, k) => {
  series.push({name: 'P' + (k + 1), type: 'line', yAxisIndex: 1, data: pad(d), symbol: 'none', showSymbol: false,
    lineStyle: {width: 1, color: memberColor(k)}, itemStyle: {color: memberColor(k)}, silent: true, emphasis: {disabled: true}});
});
function thick(name, data, axis, color) {
  return {name: name, type: 'line', yAxisIndex: axis, data: pad(data), symbol: 'none', showSymbol: false,
    lineStyle: {width: 4, color: color}, itemStyle: {color: color}, silent: true, emphasis: {disabled: true}};
}
series.push(thick('Control', tempControl, 0, '#0a14ff'));
series.push(thick('Control', precControl, 1, '#0a14ff'));
series.push(thick('Ens. mean', tempMean, 0, '#ffffff'));
series.push(thick('Ens. mean', precMean, 1, '#ffffff'));
series.push(thick('Oper', tempOper, 0, '#12dc12'));
series.push(thick('Oper', precOper, 1, '#12dc12'));

const legendLeft = [], legendRight = [];
for (let k = 1; k <= 30; k++) (k % 2 ? legendLeft : legendRight).push('P' + k);
legendLeft.push('Control', 'Oper');
legendRight.push('Ens. mean');
const legendCommon = {orient: 'vertical', top: 36, itemWidth: 9, itemHeight: 2, itemGap: 4, icon: 'rect', padding: 0,
  selectedMode: false, textStyle: {color: '#ffffff', fontSize: 10, lineHeight: 11, fontFamily: 'DejaVu Sans', padding: [0, 0, 0, -5]}};

const chart = echarts.init(document.getElementById('c'), null, {renderer: 'canvas'});
chart.setOption({
  backgroundColor: '#000000',
  animation: false,
  textStyle: {fontFamily: 'DejaVu Sans'},
  title: [
    {text: 'De Bilt  (NL)  2m Temp. & Neerslag | Thu, 06Aug2026 12Z', left: 177, top: 5, padding: 0,
     textStyle: {color: '#ffffff', fontSize: 16, fontWeight: 'bold', fontFamily: 'DejaVu Sans'}},
    {text: 'GFS Ensemble, 52N, 5E', left: 120, top: 591, padding: 0,
     textStyle: {color: '#eeeeee', fontSize: 16, fontWeight: 'normal', fontFamily: 'DejaVu Sans'}},
    {text: 'Wetterzentrale.de', left: 650, top: 591, padding: 0,
     textStyle: {color: '#eeeeee', fontSize: 16, fontWeight: 'normal', fontFamily: 'DejaVu Sans'}}
  ],
  legend: [
    Object.assign({}, legendCommon, {left: 0, data: legendLeft}),
    Object.assign({}, legendCommon, {left: 55, data: legendRight})
  ],
  grid: {left: 163, right: 40, top: 30, bottom: 60, show: true, borderColor: '#ffffff', borderWidth: 1,
         containLabel: false, outerBoundsMode: 'none'},
  xAxis: {
    type: 'category', data: times, boundaryGap: false,
    axisLine: {show: true, lineStyle: {color: '#ffffff'}}, axisTick: {show: false},
    axisLabel: {interval: 7, color: '#dddddd', fontSize: 11, margin: 8},
    splitLine: {show: true, interval: 3, lineStyle: {color: '#444444', type: [4, 4], width: 1}},
    name: 'Date (UTC)', nameLocation: 'middle', nameGap: 23, nameMoveOverlap: false,
    nameTextStyle: {color: '#dddddd', fontSize: 11}
  },
  yAxis: [
    {type: 'value', min: tempTicks.min, max: tempTicks.max, interval: tempTicks.step, position: 'left',
     axisLine: {show: true, lineStyle: {color: '#ffffff'}}, axisTick: {show: false},
     axisLabel: {color: '#dddddd', fontSize: 11, margin: 9},
     splitLine: {show: true, lineStyle: {color: '#444444', type: [4, 4], width: 1}},
     name: '2m Temp. (°C)', nameLocation: 'middle', nameRotate: 90, nameGap: 27, nameMoveOverlap: false,
     nameTextStyle: {color: '#dddddd', fontSize: 11}},
    {type: 'value', min: precTicks.min, max: precTicks.max, interval: precTicks.step, position: 'right',
     axisLine: {show: true, lineStyle: {color: '#ffffff'}},
     axisTick: {show: true, inside: true, length: 4, lineStyle: {color: '#ffffff'}},
     minorTick: {show: true, splitNumber: 10, length: 4, lineStyle: {color: '#ffffff'}},
     axisLabel: {color: '#dddddd', fontSize: 11, margin: 8},
     splitLine: {show: false},
     name: 'Neerslag (mm)', nameLocation: 'middle', nameRotate: 90, nameGap: 25, nameMoveOverlap: false,
     nameTextStyle: {color: '#dddddd', fontSize: 11}}
  ],
  series: series
});
</script>
</body></html>
